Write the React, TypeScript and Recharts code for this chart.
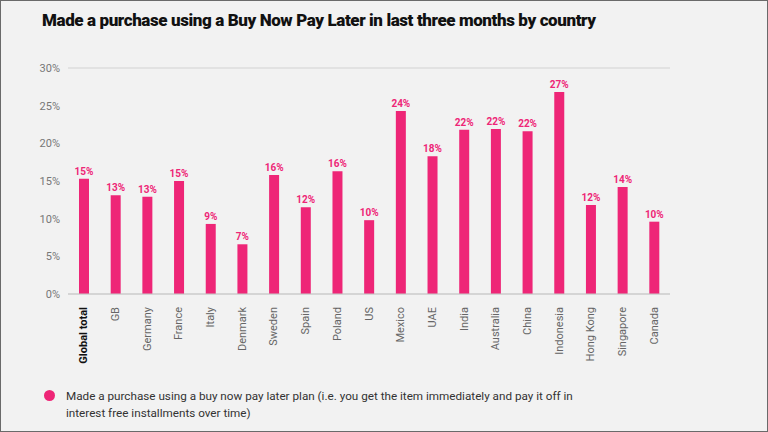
import React from "react";
import { BarChart, Bar, XAxis, YAxis, CartesianGrid, LabelList } from "recharts";

const countries = ["Global total", "GB", "Germany", "France", "Italy", "Denmark", "Sweden", "Spain", "Poland", "US", "Mexico", "UAE", "India", "Australia", "China", "Indonesia", "Hong Kong", "Singapore", "Canada"];
const values = [15.3, 13.1, 12.9, 15.0, 9.3, 6.6, 15.8, 11.5, 16.3, 9.8, 24.3, 18.3, 21.8, 21.9, 21.6, 26.8, 11.8, 14.2, 9.6];
const valueLabels = ["15%", "13%", "13%", "15%", "9%", "7%", "16%", "12%", "16%", "10%", "24%", "18%", "22%", "22%", "22%", "27%", "12%", "14%", "10%"];
const yTicks = [0, 5, 10, 15, 20, 25, 30];

const title = "Made a purchase using a Buy Now Pay Later in last three months by country";
const legendLines = [
  "Made a purchase using a buy now pay later plan (i.e. you get the item immediately and pay it off in",
  "interest free installments over time)",
];

const PINK = "#EE2677";
const FONT = "Roboto, 'Noto Sans', sans-serif";

const data = countries.map((c, i) => ({ country: c, value: values[i], label: valueLabels[i] }));

const XTick = (props: any) => {
  const { x, y, payload } = props;
  const isTotal = payload.value === "Global total";
  const ty = y + 5;
  return (
    <text
      x={x}
      y={ty}
      transform={`rotate(-90 ${x} ${ty})`}
      textAnchor="end"
      dominantBaseline="central"
      fontFamily={FONT}
      fontSize={11}
      fontWeight={isTotal ? 700 : 400}
      fill={isTotal ? "#111" : "#666"}
    >
      {payload.value}
    </text>
  );
};

export default function App() {
  return (
    <div
      style={{
        position: "fixed",
        left: 0,
        top: 0,
        width: 768,
        height: 432,
        background: "#f2f2f2",
        boxSizing: "border-box",
        border: "1px solid #6a6a6a",
        fontFamily: FONT,
        overflow: "hidden",
      }}
    >
      <div
        style={{
          position: "absolute",
          left: 41,
          top: 9,
          fontSize: 17,
          lineHeight: "20px",
          fontWeight: 900,
          color: "#111",
          whiteSpace: "nowrap",
          letterSpacing: -0.4,
        }}
      >
        {title}
      </div>
      <div style={{ position: "absolute", left: -1, top: -1 }}>
        <BarChart
          width={768}
          height={380}
          data={data}
          margin={{ top: 68, right: 38, bottom: 18, left: 0 }}
          barCategoryGap={0}
        >
          <CartesianGrid vertical={false} stroke="#d2d2d2" />
          <XAxis
            dataKey="country"
            interval={0}
            height={68}
            tickLine={false}
            axisLine={{ stroke: "#c8c8c8" }}
            tick={<XTick />}
          />
          <YAxis
            yAxisId="left"
            orientation="left"
            domain={[0, 30]}
            ticks={yTicks}
            width={68}
            axisLine={false}
            tickLine={false}
            tickFormatter={(v: number) => `${v}%`}
            tick={{ fontSize: 11, fill: "#777", fontFamily: FONT }}
          />
          <YAxis
            yAxisId="right"
            orientation="right"
            domain={[0, 30]}
            ticks={yTicks}
            width={60}
            axisLine={false}
            tickLine={false}
            tickFormatter={(v: number) => `${v}%`}
            tick={{ fontSize: 11, fill: "#777", fontFamily: FONT, dx: -3 }}
          />
          <Bar yAxisId="left" dataKey="value" fill={PINK} barSize={10} isAnimationActive={false}>
            <LabelList
              dataKey="label"
              position="top"
              offset={4}
              fill={PINK}
              fontSize={10}
              fontWeight={700}
              fontFamily={FONT}
            />
          </Bar>
        </BarChart>
      </div>
      <div style={{ position: "absolute", left: 43, top: 387, display: "flex", alignItems: "flex-start" }}>
        <div
          style={{ width: 11, height: 11, borderRadius: "50%", background: PINK, marginTop: 2, marginRight: 11, flex: "none" }}
        />
        <div style={{ fontSize: 11.7, color: "#333", lineHeight: "17px" }}>
          {legendLines.map((l, i) => (
            <div key={i} style={{ whiteSpace: "nowrap" }}>{l}</div>
          ))}
        </div>
      </div>
    </div>
  );
}
